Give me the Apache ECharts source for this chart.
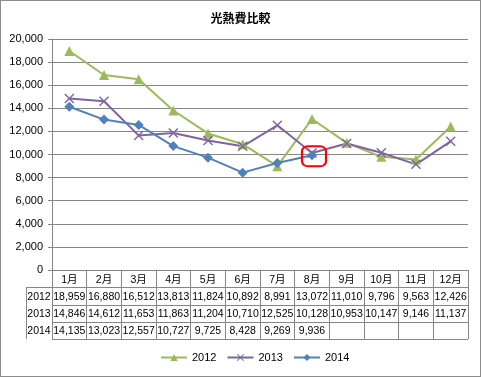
<!DOCTYPE html>
<html>
<head>
<meta charset="utf-8">
<script src="https://cdn.jsdelivr.net/npm/echarts@6/dist/echarts.min.js"></script>
<style>
  html, body { margin: 0; padding: 0; background: #fff; }
  #chart { width: 479px; height: 375px; border: 1px solid #8c8c8c; }
</style>
</head>
<body>
<div id="chart"></div>
<script>
const months = ["1月", "2月", "3月", "4月", "5月", "6月", "7月", "8月", "9月", "10月", "11月", "12月"];
const years = ["2012", "2013", "2014"];
const y2012 = [18959, 16880, 16512, 13813, 11824, 10892, 8991, 13072, 11010, 9796, 9563, 12426];
const y2013 = [14846, 14612, 11653, 11863, 11204, 10710, 12525, 10128, 10953, 10147, 9146, 11137];
const y2014 = [14135, 13023, 12557, 10727, 9725, 8428, 9269, 9936, null, null, null, null];
const colors = ["#9bbb59", "#8064a2", "#4f81bd"];

const fmt = v => (v == null ? "" : v.toLocaleString("en-US"));
const font = "'Liberation Sans', Arial, 'Noto Sans CJK JP', sans-serif";
const gridColor = "#868686";
const rowH = 17.3;
// X マーカー
const xMark = "path://M0,1L1,0L5,4L9,0L10,1L6,5L10,9L9,10L5,6L1,10L0,9L4,5Z";

let chart = echarts.init(document.getElementById("chart"));

const gridL = 51, gridT = 38, gridR = 12, gridB = 106;

chart.setOption({
  animation: false,
  color: colors,
  title: {
    text: "光熱費比較",
    left: "center",
    top: 8,
    textStyle: { fontSize: 12, fontWeight: "bold", color: "#000", fontFamily: font },
  },
  grid: { left: gridL, right: gridR, top: gridT, bottom: gridB },
  legend: {
    bottom: 8,
    left: 154,
    itemWidth: 26,
    itemHeight: 9,
    itemGap: 10,
    textStyle: { fontSize: 11, color: "#000", fontFamily: font },
    data: years,
  },
  xAxis: {
    type: "category",
    data: months,
    axisLine: { lineStyle: { color: gridColor } },
    axisTick: { show: true, length: rowH * 4, lineStyle: { color: gridColor } },
    axisLabel: {
      interval: 0,
      margin: 1,
      color: "#000",
      fontFamily: font,
      fontSize: 10.5,
      lineHeight: rowH,
      formatter: (val, i) =>
        [val, fmt(y2012[i]), fmt(y2013[i]), fmt(y2014[i])].join("\n"),
    },
  },
  yAxis: {
    type: "value",
    min: 0,
    max: 20000,
    interval: 2000,
    axisLine: { show: true, lineStyle: { color: gridColor } },
    axisTick: { show: true, length: 4, lineStyle: { color: gridColor } },
    axisLabel: {
      color: "#000",
      fontFamily: font,
      fontSize: 11,
      margin: 9,
      formatter: v => v.toLocaleString("en-US"),
    },
    splitLine: { lineStyle: { color: gridColor } },
  },
  series: [
    {
      name: "2012",
      type: "line",
      data: y2012,
      symbol: "triangle",
      symbolSize: 10,
      lineStyle: { width: 2 },
    },
    {
      name: "2013",
      type: "line",
      data: y2013,
      symbol: xMark,
      symbolSize: 10,
      lineStyle: { width: 2 },
    },
    {
      name: "2014",
      type: "line",
      data: y2014,
      symbol: "diamond",
      symbolSize: 10,
      lineStyle: { width: 2 },
      markPoint: {
        symbol: "roundRect",
        symbolSize: [24, 20],
        symbolOffset: [2, 1],
        itemStyle: { color: "rgba(0,0,0,0)", borderColor: "#ff0000", borderWidth: 2 },
        label: { show: false },
        data: [{ coord: ["8月", y2014[7]] }],
      },
    },
  ],
});

// データテーブルの罫線
function drawTable() {
  const w = chart.getWidth(), h = chart.getHeight();
  const x0 = gridL, x1 = w - gridR, y0 = h - gridB;
  const hdrL = 25;
  const lines = [];
  const ls = { stroke: gridColor, lineWidth: 1 };
  for (let r = 1; r <= 4; r++) {
    const y = Math.round(y0 + r * rowH) + 0.5;
    lines.push({ type: "line", shape: { x1: r === 1 ? hdrL : x0, y1: y, x2: x1, y2: y }, style: ls });
  }
  // 右端・左端
  lines.push({ type: "line", shape: { x1: x1 + 0.5, y1: y0, x2: x1 + 0.5, y2: Math.round(y0 + 4 * rowH) }, style: ls });
  lines.push({ type: "line", shape: { x1: hdrL + 0.5, y1: Math.round(y0 + rowH), x2: hdrL + 0.5, y2: Math.round(y0 + 4 * rowH) }, style: ls });
  lines.push({ type: "line", shape: { x1: x0 + 0.5, y1: y0 + rowH, x2: x0 + 0.5, y2: Math.round(y0 + 4 * rowH) }, style: ls });
  years.forEach((yr, i) => {
    lines.push({
      type: "text",
      style: {
        text: yr,
        x: (hdrL + x0) / 2,
        y: y0 + (i + 1.5) * rowH + 1,
        align: "center",
        verticalAlign: "middle",
        fill: "#000",
        font: "10.5px " + font,
      },
    });
  });
  chart.setOption({ graphic: lines });
}
drawTable();
</script>
</body>
</html>
